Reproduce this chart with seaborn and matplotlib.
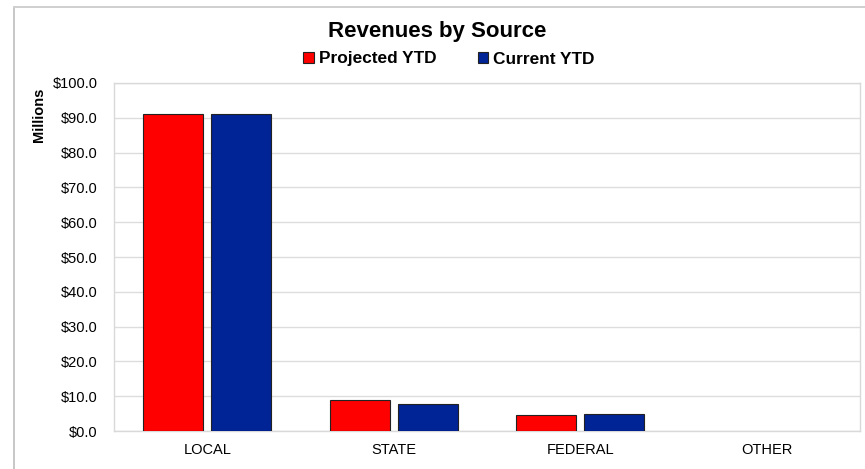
import matplotlib
matplotlib.use("Agg")
import matplotlib.pyplot as plt
import seaborn as sns
import pandas as pd
from matplotlib.patches import Rectangle

categories = ["LOCAL", "STATE", "FEDERAL", "OTHER"]
series_names = ["Projected YTD", "Current YTD"]
projected = [91.0, 9.0, 4.6, 0.0]
current = [91.0, 7.7, 4.9, 0.0]
colors = ["#FF0000", "#002395"]
yticks = [0, 10, 20, 30, 40, 50, 60, 70, 80, 90, 100]

df = pd.DataFrame({
    "Source": categories * 2,
    "Series": [series_names[0]] * len(categories) + [series_names[1]] * len(categories),
    "Value": projected + current,
})

sns.set_style("white")
plt.rcParams["font.family"] = ["Liberation Sans", "DejaVu Sans"]
plt.rcParams["text.color"] = "black"
plt.rcParams["xtick.color"] = "black"
plt.rcParams["ytick.color"] = "black"
plt.rcParams["axes.labelcolor"] = "black"

fig = plt.figure(figsize=(8.65, 4.69), dpi=100)
ax = fig.add_axes([114 / 865, 1 - 431 / 469, (860 - 114) / 865, (431 - 83) / 469])

sns.barplot(data=df, x="Source", y="Value", hue="Series", order=categories,
            hue_order=series_names, palette=colors, saturation=1, width=0.731, gap=0.118,
            edgecolor="#222222", linewidth=0.8, ax=ax, legend=False, zorder=3)

for p in ax.patches:
    if p.get_height() == 0:
        p.set_visible(False)

ax.set_ylim(0, 100)
ax.set_xlim(-0.5, 3.5)
ax.set_yticks(yticks)
ax.set_yticklabels([f"${v:.1f}" for v in yticks], fontsize=10.5)
ax.tick_params(axis="x", labelsize=10.5, length=0, pad=9)
ax.tick_params(axis="y", length=0, pad=12)
ax.yaxis.grid(True, color="#DDDDDD", linewidth=1, zorder=0)
ax.set_axisbelow(True)
for s in ax.spines.values():
    s.set_color("#D9D9D9")
    s.set_linewidth(1)
ax.set_xlabel("")
ax.set_ylabel("Millions", fontsize=10.5, fontweight="bold")
ax.yaxis.set_label_coords(-68 / 746, (431 - 115) / 348)

fig.text(437 / 865, 1 - 32 / 469, "Revenues by Source", ha="center", va="center",
         fontsize=16, fontweight="bold")

handles = [Rectangle((0, 0), 1, 1, facecolor=c, edgecolor="#222222", linewidth=0.8) for c in colors]
fig.legend(handles, series_names, loc="center", bbox_to_anchor=(449 / 865, 1 - 59 / 469),
           ncol=2, frameon=False, prop={"weight": "bold", "size": 12.4},
           handlelength=0.62, handleheight=0.62, handletextpad=0.28, columnspacing=2.4)

# outer chart frame with shadow on top/left
fig.patches.append(Rectangle((13 / 865, 0), 2 / 865, 1 - 7 / 469, transform=fig.transFigure,
                             facecolor="#C8C8C8", edgecolor="none"))
fig.patches.append(Rectangle((13 / 865, 1 - 8 / 469), 1 - 13 / 865, 2 / 469, transform=fig.transFigure,
                             facecolor="#D0D0D0", edgecolor="none"))

fig.savefig("out.png", dpi=100)
